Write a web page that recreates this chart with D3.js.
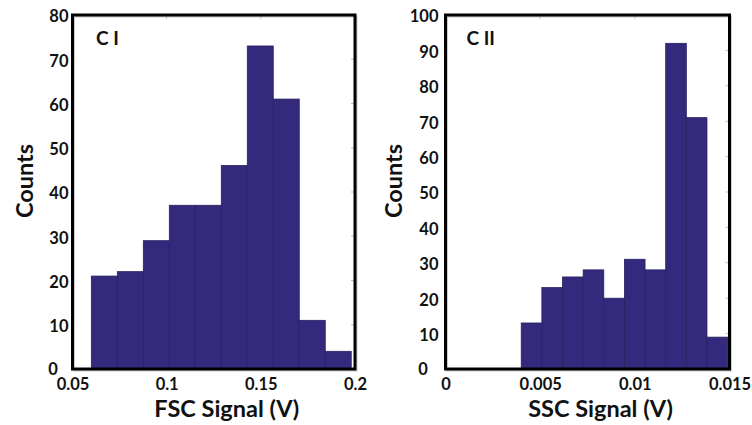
<!DOCTYPE html>
<html>
<head>
<meta charset="utf-8">
<script src="https://cdn.jsdelivr.net/npm/d3@7"></script>
<style>
  html, body { margin: 0; padding: 0; background: #fff; }
  svg { display: block; }
  text { font-family: Lato, "Open Sans", sans-serif; font-weight: 700; fill: #111; }
</style>
</head>
<body>
<svg id="chart" width="752" height="425"></svg>
<script>
// Panel C I: forward scatter histogram
const fscEdges  = [0.06, 0.0738, 0.0876, 0.1014, 0.1152, 0.129, 0.1428, 0.1566, 0.1704, 0.1842, 0.198];
const fscCounts = [21, 22, 29, 37, 37, 46, 73, 61, 11, 4];
const fscXTicks = [0.05, 0.1, 0.15, 0.2];
const fscXTickLabels = ["0.05", "0.1", "0.15", "0.2"];
const fscYTicks = [0, 10, 20, 30, 40, 50, 60, 70, 80];

// Panel C II: side scatter histogram
const sscEdges  = [0.004, 0.00509, 0.00618, 0.00727, 0.00836, 0.00945, 0.01054, 0.01163, 0.01272, 0.01381, 0.0149];
const sscCounts = [13, 23, 26, 28, 20, 31, 28, 92, 71, 9];
const sscXTicks = [0, 0.005, 0.01, 0.015];
const sscXTickLabels = ["0", "0.005", "0.01", "0.015"];
const sscYTicks = [0, 10, 20, 30, 40, 50, 60, 70, 80, 90, 100];

const panels = [
  { tag: "C I", xLabel: "FSC Signal (V)", edges: fscEdges, counts: fscCounts,
    xDomain: [0.05, 0.2], yDomain: [0, 80], xTicks: fscXTicks, xTickLabels: fscXTickLabels,
    yTicks: fscYTicks, left: 72.5, right: 355, countsX: 33, tagDx: 23.5, yPad: 3 },
  { tag: "C II", xLabel: "SSC Signal (V)", edges: sscEdges, counts: sscCounts,
    xDomain: [0, 0.015], yDomain: [0, 100], xTicks: sscXTicks, xTickLabels: sscXTickLabels,
    yTicks: sscYTicks, left: 445.5, right: 729.5, countsX: 402, tagDx: 21, yPad: 6 }
];

const plotTop = 15, plotBottom = 369;
const svg = d3.select("#chart");
const barColor = "#332a7d";
const tickFont = 16.5;

panels.forEach(p => {
  const x = d3.scaleLinear().domain(p.xDomain).range([p.left, p.right]);
  const y = d3.scaleLinear().domain(p.yDomain).range([plotBottom, plotTop]);
  const g = svg.append("g");

  const bins = p.counts.map((c, i) => ({ x0: p.edges[i], x1: p.edges[i + 1], n: c }));

  // histogram bars
  g.selectAll("rect.bar").data(bins).join("rect")
    .attr("class", "bar")
    .attr("x", d => x(d.x0))
    .attr("y", d => y(d.n))
    .attr("width", d => x(d.x1) - x(d.x0))
    .attr("height", d => y(0) - y(d.n))
    .attr("fill", barColor)
    .attr("stroke", "#282060")
    .attr("stroke-width", 0.8);

  // faint inner tick marks on the right and top edges
  g.selectAll("line.ry").data(p.yTicks).join("line")
    .attr("class", "ry")
    .attr("x1", p.right - 4).attr("x2", p.right)
    .attr("y1", d => y(d)).attr("y2", d => y(d))
    .attr("stroke", "#bbb").attr("stroke-width", 1);
  g.selectAll("line.tx").data(p.xTicks).join("line")
    .attr("class", "tx")
    .attr("x1", d => x(d)).attr("x2", d => x(d))
    .attr("y1", plotTop).attr("y2", plotTop + 4)
    .attr("stroke", "#bbb").attr("stroke-width", 1);

  // frame shadow and frame
  g.append("rect")
    .attr("x", p.left + 1.5).attr("y", plotTop + 1.5)
    .attr("width", p.right - p.left).attr("height", plotBottom - plotTop)
    .attr("fill", "none").attr("stroke", "#999").attr("stroke-width", 2).attr("opacity", 0.5);
  g.append("rect")
    .attr("x", p.left).attr("y", plotTop)
    .attr("width", p.right - p.left).attr("height", plotBottom - plotTop)
    .attr("fill", "none").attr("stroke", "#000").attr("stroke-width", 3);

  // y tick labels
  const yAxis = d3.axisLeft(y).tickValues(p.yTicks).tickSize(0).tickPadding(p.yPad);
  const ya = g.append("g").attr("transform", `translate(${p.left - 1},0)`).call(yAxis);
  ya.select(".domain").remove();
  ya.selectAll("text").attr("font-size", tickFont).attr("fill", "#1a1a1a").attr("dy", "0.42em")
    .style("font-family", "Lato, sans-serif").style("font-weight", 700);
  // the zero label sits flush with the left edge of the two-digit labels
  const tenLabel = ya.selectAll(".tick").filter(d => d === 10).select("text").node();
  const zeroLabel = ya.selectAll(".tick").filter(d => d === 0).select("text");
  const shift = tenLabel.getComputedTextLength() - zeroLabel.node().getComputedTextLength();
  zeroLabel.attr("x", -p.yPad - shift - 1).attr("dy", "0.36em");

  // x tick labels
  const xAxis = d3.axisBottom(x).tickValues(p.xTicks).tickSize(0).tickPadding(9)
    .tickFormat((d, i) => p.xTickLabels[i]);
  const xa = g.append("g").attr("transform", `translate(0,${plotBottom})`).call(xAxis);
  xa.select(".domain").remove();
  xa.selectAll("text").attr("font-size", tickFont).attr("fill", "#1a1a1a")
    .style("font-family", "Lato, sans-serif").style("font-weight", 700);

  // axis titles
  g.append("text")
    .attr("x", (p.left + p.right) / 2 + 13).attr("y", 417)
    .attr("text-anchor", "middle").attr("font-size", 23.5)
    .text(p.xLabel);
  g.append("text")
    .attr("transform", `translate(${p.countsX},181) rotate(-90)`)
    .attr("text-anchor", "middle").attr("font-size", 23.5)
    .text("Counts");

  // panel tag
  g.append("text")
    .attr("x", p.left + p.tagDx).attr("y", 45)
    .attr("font-size", 19)
    .text(p.tag);
});
</script>
</body>
</html>
